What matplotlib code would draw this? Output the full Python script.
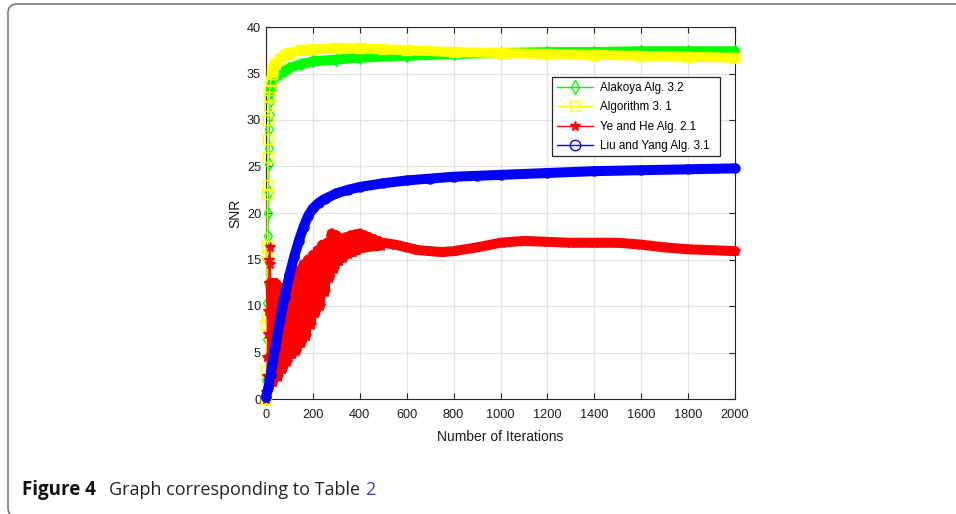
import matplotlib
matplotlib.use("Agg")
import matplotlib.pyplot as plt
from matplotlib.lines import Line2D
from matplotlib.patches import FancyBboxPatch, Rectangle
from matplotlib.transforms import IdentityTransform

# ---------------- data ----------------
alakoya_iter = [0, 2, 4, 5, 6, 7, 8, 9, 10, 11, 12, 13, 14, 15, 17, 20, 25, 30, 40, 60, 80,
                100, 150, 200, 300, 400, 600, 800, 1000, 1200, 1400, 1600, 1800, 2000]
alakoya_snr = [0, 2, 4.5, 6.5, 10.3, 12.5, 15, 17.5, 20, 22.3, 25.3, 27, 29, 30.5, 32, 33.0, 33.8,
               34.2, 34.6, 35.0, 35.3, 35.6, 36.0, 36.3, 36.5, 36.7, 36.9, 37.1, 37.2, 37.3,
               37.3, 37.4, 37.4, 37.4]

alg31_iter = [0, 1, 2, 3, 4, 5, 6, 7, 8, 9, 10, 12, 14, 16, 20, 25, 30, 40, 60, 80, 100, 150,
              200, 300, 400, 500, 600, 800, 1000, 1200, 1400, 1600, 1800, 2000]
alg31_snr = [0, 3, 8, 8.7, 15.5, 16.5, 22, 23, 26, 28, 30, 31.5, 32.5, 33.2, 34.2, 35.0, 35.5,
             36.0, 36.6, 37.0, 37.2, 37.5, 37.6, 37.7, 37.7, 37.6, 37.5, 37.3, 37.2, 37.1,
             37.0, 36.9, 36.8, 36.7]

yehe_iter = [0, 2, 4, 6, 8, 10, 12, 14, 16, 18,
             20, 30, 40, 50, 60, 70, 80, 90, 100, 110, 120, 130, 140, 150, 160, 170, 180, 190,
             200, 210, 220, 230, 240, 250, 260, 270, 280, 290, 300, 310, 320, 330, 340, 350,
             360, 370, 380, 390, 400, 410, 420, 430, 440, 450, 460, 470, 480, 490, 500,
             550, 600, 650, 700, 750, 800, 900, 1000, 1100, 1200, 1300, 1400, 1500, 1600,
             1700, 1800, 1900, 2000]
yehe_snr = [0, 0.8, 2.5, 4.5, 7, 9.5, 12.5, 15, 16.3, 14.5,
            12.5, 1.8, 12.5, 2.4, 12.0, 3.2, 11.8, 4.0, 13.2, 4.8, 13.8, 5.2, 13.8, 6.0, 14.5,
            6.8, 15.0, 8.0, 15.5, 9.2, 16.0, 10.0, 16.6, 11.5, 16.8, 13.0, 17.8, 14.0, 17.6,
            14.8, 17.2, 15.2, 17.4, 15.6, 17.6, 15.8, 17.7, 16.0, 17.8, 16.2, 17.6, 16.3, 17.4,
            16.4, 17.2, 16.4, 17.0, 16.5, 16.8,
            16.6, 16.3, 16.0, 15.9, 15.8, 15.9, 16.3, 16.8, 17.0, 16.9, 16.8, 16.8, 16.8, 16.6,
            16.3, 16.1, 16.0, 15.9]

liuyang_iter = [0, 10, 20, 40, 60, 80, 100, 120, 140, 160, 180, 200, 225, 250, 300, 350, 400,
                500, 600, 700, 800, 900, 1000, 1200, 1400, 1600, 1800, 2000]
liuyang_snr = [0.2, 1.2, 2.6, 5.5, 8.5, 11.0, 13.3, 15.3, 17.0, 18.5, 19.7, 20.5, 21.1, 21.5,
               22.1, 22.5, 22.8, 23.2, 23.5, 23.7, 23.9, 24.0, 24.1, 24.3, 24.5, 24.6, 24.7, 24.8]

labels = ["Alakoya Alg. 3.2", "Algorithm 3. 1", "Ye and He Alg. 2.1", "Liu and Yang Alg. 3.1"]
colors = ["#00ff00", "#ffff00", "#ff0000", "#0000ff"]
markers = ["d", "s", "*", "o"]
x_ticks = list(range(0, 2001, 200))
y_ticks = list(range(0, 41, 5))

# ---------------- figure ----------------
W, H = 956, 514
fig = plt.figure(figsize=(W / 100, H / 100), dpi=100)
plt.rcParams['font.family'] = ['Liberation Sans', 'DejaVu Sans']

ax = fig.add_axes([266 / W, 1 - 399 / H, (735 - 266) / W, (399 - 27) / H])

series = [(alakoya_iter, alakoya_snr), (alg31_iter, alg31_snr),
          (yehe_iter, yehe_snr), (liuyang_iter, liuyang_snr)]
band_start = [15, 15, 10, 0]   # index from which the marker band is drawn thick

for (xs, ys), c, m, k in zip(series, colors, markers, band_start):
    ax.plot(xs[k:], ys[k:], color=c, lw=7.2, solid_joinstyle='round',
            solid_capstyle='round', clip_on=False, zorder=3)
    ax.plot(xs, ys, color=c, lw=1.0, marker=m, ms=6.5 if m != "*" else 7,
            mfc='none' if m != "*" else c, mec=c, mew=1.0, clip_on=False, zorder=3)

ax.set_xlim(0, 2000)
ax.set_ylim(0, 40)
ax.set_xticks(x_ticks)
ax.set_yticks(y_ticks)
ax.tick_params(direction='in', length=4, width=0.8, top=True, right=True,
               labelsize=9.2, colors='#262626')
ax.tick_params(axis='x', pad=7.0)
ax.tick_params(axis='y', pad=3.5)
ax.tick_params(labelcolor='#1a1a1a')
ax.grid(True, color='#e3e3e3', lw=0.9, zorder=0)
ax.set_axisbelow(True)
for s in ax.spines.values():
    s.set_color('#262626')
    s.set_linewidth(0.8)

ax.set_xlabel("Number of Iterations", fontsize=10, color='#1a1a1a', labelpad=7)
ax.set_ylabel("SNR", fontsize=10, color='#1a1a1a', labelpad=3)

# legend: frame drawn as a rectangle in pixel coordinates, entries placed inside
legbox = Rectangle((552, H - 156), 720 - 552, 156 - 77, transform=IdentityTransform(),
                   fill=True, facecolor='white', edgecolor='#262626', lw=0.9, zorder=4,
                   figure=fig)
fig.artists.append(legbox)
handles = [Line2D([0], [0], color=c, lw=1.0, marker=m, ms=7.5,
                  mfc='none' if m != "*" else c, mec=c, mew=1.0)
           for c, m in zip(colors, markers)]
leg = fig.legend(handles, labels, loc='upper left',
                 bbox_to_anchor=(553 / W, 1 - 78 / H), bbox_transform=fig.transFigure,
                 borderaxespad=0, fontsize=8.4, frameon=False,
                 handlelength=3.1, handletextpad=0.55, labelspacing=0.63,
                 borderpad=0.35)
leg.set_zorder(5)

# ---------------- caption & frame ----------------
frame = FancyBboxPatch((8, -3), 1000, 513, boxstyle="round,pad=0,rounding_size=9",
                       transform=IdentityTransform(), fill=False, edgecolor='#707070',
                       lw=1.1, figure=fig)
fig.patches.append(frame)

cap_y = 1 - 495 / H
t1 = fig.text(22 / W, cap_y, "Figure 4", fontsize=13.5, fontweight='bold',
              family=['Open Sans', 'DejaVu Sans'], color='#111111', va='baseline')
t2 = fig.text(109 / W, cap_y, "Graph corresponding to Table ", fontsize=13,
              family=['Open Sans', 'DejaVu Sans'], color='#222222', va='baseline')
ax.annotate("2", xy=(1, 0), xycoords=t2, va='bottom', ha='left', fontsize=13,
            family=['Open Sans', 'DejaVu Sans'], color='#2a3ff0', annotation_clip=False)

fig.savefig("out.png", dpi=100)
